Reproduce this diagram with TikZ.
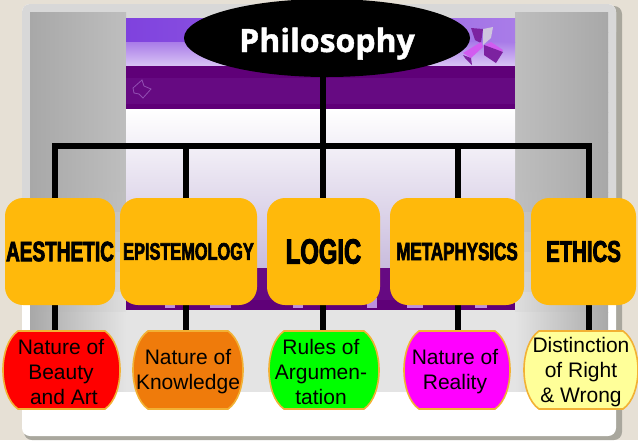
\documentclass[tikz,border=0pt]{standalone}
\usepackage{fontspec}
\setmainfont{Liberation Sans}
\newfontfamily\impfont{Liberation Sans}[BoldFeatures={FakeStretch=0.68,FakeBold=2.6}]
\newfontfamily\titlefont{Open Sans}[BoldFeatures={FakeBold=1.3}]
\usetikzlibrary{calc,shapes.geometric}
\pgfdeclarelayer{back}
\pgfdeclarelayer{edge}
\pgfsetlayers{back,edge,main}
\definecolor{paper}{HTML}{E6E0D5}
\definecolor{frameshadow}{HTML}{A9A79D}
\definecolor{framelight}{HTML}{D8D8D8}
\definecolor{band}{HTML}{660A82}
\definecolor{bandtop}{HTML}{5F0078}
\definecolor{gold}{HTML}{FFB90B}
\definecolor{goldedge}{HTML}{F2B134}
\definecolor{darkedge}{HTML}{A8A8A8}
\definecolor{midtop}{HTML}{BEBEBE}
\definecolor{midlow}{HTML}{E4E4E4}
\definecolor{skyA}{HTML}{7F42DE}
\definecolor{skyB}{HTML}{D9C4F5}
\definecolor{skyC}{HTML}{A97CE8}
\definecolor{lav}{HTML}{C9BCDD}
\definecolor{cubeD}{HTML}{7C22A0}
\definecolor{cubeB}{HTML}{D25CF0}
\definecolor{cubeG}{HTML}{CFC6DE}
\definecolor{speck}{HTML}{BC90E0}
\definecolor{kOrange}{HTML}{EF7B0B}
\definecolor{kRed}{HTML}{FF0000}
\definecolor{kGreen}{HTML}{00FF00}
\definecolor{kMagenta}{HTML}{FF00FF}
\definecolor{kYellow}{HTML}{FFFF99}
\tikzset{
  x=1pt,y=-1pt,
  conn/.style={line width=5.5pt,black},
  topic/.style n args={2}{fill=gold,rounded corners=18pt,inner sep=0pt,text=black,
     minimum width=#1pt,minimum height=107pt,
     font=\impfont\bfseries\fontsize{#2}{#2}\selectfont},
  desc/.style={inner sep=0pt,minimum height=78pt,align=center,text=black,font=\fontsize{21}{25}\selectfont},
  blobline/.style={draw=goldedge,line width=1.6pt},
}
% \blob{name}{left}{right}{fill}{text}{text x}{text y}
\newcommand\blob[7]{%
  \filldraw[blobline,fill=#4] (#2+15,331) -- (#3-15,331) .. controls (#3-5,338) and (#3,354) .. (#3,370)
     .. controls (#3,386) and (#3-5,402) .. (#3-15,409) -- (#2+15,409)
     .. controls (#2+5,402) and (#2,386) .. (#2,370)
     .. controls (#2,354) and (#2+5,338) .. (#2+15,331) -- cycle;
  \node[desc] (#1) at (#6,#7) {#5};
}
\begin{document}
\begin{tikzpicture}
\useasboundingbox (0,0) rectangle (638,440);
\begin{pgfonlayer}{back}
  \fill[paper] (0,0) rectangle (638,440);
  % frame
  \fill[frameshadow,rounded corners=8pt] (24,6) rectangle (622,440);
  \fill[white,rounded corners=8pt] (22,4) rectangle (616,436);
  \fill[framelight,rounded corners=8pt] (22,4) rectangle (616,40);
  \fill[framelight] (22,20) rectangle (616,300);
  % inner panel: side strips lighten downward
  \fill[midlow] (126,200) rectangle (515,393);
  \foreach \i in {0,...,18}{
    \pgfmathsetmacro\mixv{min(100,max(0,(\i*20+12-190)/1.2))}
    \pgfmathsetmacro\ya{12+\i*20}
    \pgfmathsetmacro\yb{\ya+20.4}
    \fill[left color=darkedge,right color=midlow!\mixv!midtop] (30,\ya) rectangle (126,\yb);
    \fill[right color=darkedge,left color=midlow!\mixv!midtop] (515,\ya) rectangle (608,\yb);
  }
  \fill[white] (30,392) rectangle (608,432);
  % slide
  \fill[left color=skyA,right color=skyC] (126,18) rectangle (515,42);
  \fill[top color=skyC,bottom color=skyB] (126,42) rectangle (515,66);
  \fill[band] (126,66) rectangle (515,109);
  \fill[bandtop] (126,66) rectangle (515,78);
  \fill[bandtop] (126,104) rectangle (515,109);
  \fill[top color=white,bottom color=lav] (126,109) rectangle (515,268);
  \fill[band] (126,268) rectangle (515,310);
  \fill[bandtop] (126,300) rectangle (515,310);
  % logo
  \fill[cubeD] (471,28) -- (483,29) -- (481,43) -- (475,40) -- cycle;
  \fill[cubeG] (483,29) -- (493,27) -- (491,38) -- (483,45) -- cycle;
  \fill[cubeB] (463,53) -- (481,42) -- (483,47) -- (471,58) -- cycle;
  \fill[cubeD] (463,55) -- (471,58) -- (472,65) -- (465,58) -- cycle;
  \fill[cubeB] (491,42) -- (503,50) -- (501,53) -- (485,45) -- cycle;
  \fill[cubeD] (484,45) -- (503,52) -- (496,63) -- (484,55) -- cycle;
  % arrow icon
  \draw[speck,line width=.8pt,opacity=.5] (133,88) -- (142,80) -- (144,86) -- (151,89) -- (143,98) -- (139,94) -- (134,93) -- cycle;
  % specks in the lower band
  \fill[speck] (165,304) rectangle (175,308);
  \fill[speck] (210,304) rectangle (231,308);
  \fill[speck] (293,304) rectangle (303,308);
  \fill[speck] (367,298) rectangle (377,308);
  \fill[speck] (407,304) rectangle (423,308);
  \fill[speck] (475,304) rectangle (487,308);
\end{pgfonlayer}

% main nodes
\node[ellipse,fill=black,text=white,inner sep=0pt,minimum width=286pt,minimum height=78pt,
      font=\titlefont\bfseries\fontsize{32}{32}\selectfont] (root) at (327,38) {\raisebox{-14pt}[0pt][0pt]{Philosophy}};

\coordinate (barA) at (55,146);
\coordinate (barB) at (186,146);
\coordinate (hub) at (323,146);
\coordinate (barD) at (458,146);
\coordinate (barE) at (589,146);

\node[topic={110}{28}] (a) at (60,251.5) {AESTHETIC};
\node[topic={137}{24}] (b) at (188.5,251.5) {EPISTEMOLOGY};
\node[topic={113}{35}] (c) at (323.5,251.5) {LOGIC};
\node[topic={134}{25}] (d) at (457,251.5) {METAPHYSICS};
\node[topic={105}{30}] (e) at (583.5,251.5) {ETHICS};

\blob{na}{3}{120}{kRed}{Nature of\\Beauty\\\ and Art}{61}{372}
\blob{nb}{133}{243}{kOrange}{Nature of\\Knowledge}{188}{372}
\blob{nc}{269}{379}{kGreen}{Rules of\\Argumen-\\tation}{321}{372}
\blob{nd}{404}{510}{kMagenta}{Nature of\\Reality}{455}{372}
\blob{ne}{524}{638}{kYellow}{Distinction\\of Right\\\& Wrong}{581}{372}

\begin{pgfonlayer}{edge}
  \draw[conn] (root.center -| hub) -- (hub |- nc.north);
  \draw[conn,line cap=rect] (barA) -- (barE);
  \draw[conn] (barA) -- (barA |- na.north);
  \draw[conn] (barB) -- (barB |- nb.north);
  \draw[conn] (barD) -- (barD |- nd.north);
  \draw[conn] (barE) -- (barE |- ne.north);
\end{pgfonlayer}
\end{tikzpicture}
\end{document}
